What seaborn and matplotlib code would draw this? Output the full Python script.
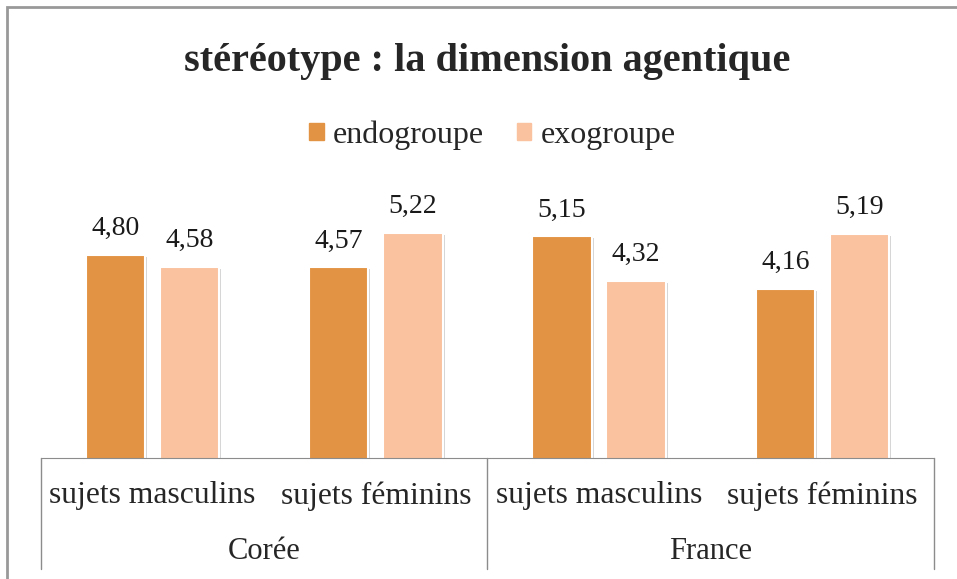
import pandas as pd
import matplotlib.pyplot as plt
import seaborn as sns
from matplotlib.patches import Rectangle
import matplotlib.patheffects as pe

pays = ['Corée', 'Corée', 'France', 'France']
sujets = ['sujets masculins', 'sujets féminins', 'sujets masculins', 'sujets féminins']
endogroupe = [4.80, 4.57, 5.15, 4.16]
exogroupe = [4.58, 5.22, 4.32, 5.19]

cats = [f'{p}|{s}' for p, s in zip(pays, sujets)]
df = pd.DataFrame({
    'cat': cats * 2,
    'groupe': ['endogroupe'] * 4 + ['exogroupe'] * 4,
    'score': endogroupe + exogroupe,
})

sns.set_style('white')
plt.rcParams['font.family'] = ['Liberation Serif', 'DejaVu Serif']

fig = plt.figure(figsize=(9.57, 5.79), dpi=100)
ax = fig.add_axes([0.0428, 0.2090, 0.9331, 0.4611])

colors = ['#E29444', '#FAC29E']
sns.barplot(data=df, x='cat', y='score', hue='groupe', order=cats,
            palette=colors, saturation=1, width=0.664, gap=0.2,
            edgecolor='white', linewidth=1.5, ax=ax, legend=False)

# light shadow like the office chart
for p in ax.patches:
    p.set_path_effects([pe.SimplePatchShadow(offset=(1.5, -1.5), shadow_rgbFace='#888888', alpha=0.35),
                        pe.Normal()])

ax.set_ylim(1, 6)
ax.set_xlim(-0.5, 3.5)
for c in ax.containers:
    ax.bar_label(c, labels=[f'{v:.2f}'.replace('.', ',') for v in c.datavalues],
                 padding=10, fontsize=20, color='#1a1a1a')

for s in ['top', 'right', 'left']:
    ax.spines[s].set_visible(False)
ax.spines['bottom'].set_color('#8c8c8c')
ax.set_yticks([])
ax.set_xticks([])
ax.set_xlabel('')
ax.set_ylabel('')

# two-level category axis
tr = ax.get_xaxis_transform()
for x in [-0.5, 1.5, 3.5]:
    ax.plot([x, x], [0, -0.416], transform=tr, color='#8c8c8c', lw=1, clip_on=False)
for i, s in enumerate(sujets):
    ax.text(i, -0.142, s, transform=tr, ha='center', va='center', fontsize=22.8)
ax.text(0.5, -0.35, 'Corée', transform=tr, ha='center', va='center', fontsize=22)
ax.text(2.5, -0.35, 'France', transform=tr, ha='center', va='center', fontsize=22)

fig.text(487 / 957, 1 - 62 / 579, 'stéréotype : la dimension agentique',
         ha='center', va='center', fontsize=29, fontweight='bold')

handles = [Rectangle((0, 0), 1, 1, color=c) for c in colors]
fig.legend(handles, ['endogroupe', 'exogroupe'], loc='center',
           bbox_to_anchor=(492.5 / 957, 1 - 135 / 579), ncol=2, frameon=False,
           fontsize=23, handlelength=0.44, handleheight=0.44, handletextpad=0.28,
           columnspacing=1.06, borderpad=0)

fig.patches.append(Rectangle((7 / 957, -0.1), 1.2, 1.1 - 7 / 579, transform=fig.transFigure,
                             fill=False, edgecolor='#999999', lw=2))

fig.savefig('out.png', dpi=100)
